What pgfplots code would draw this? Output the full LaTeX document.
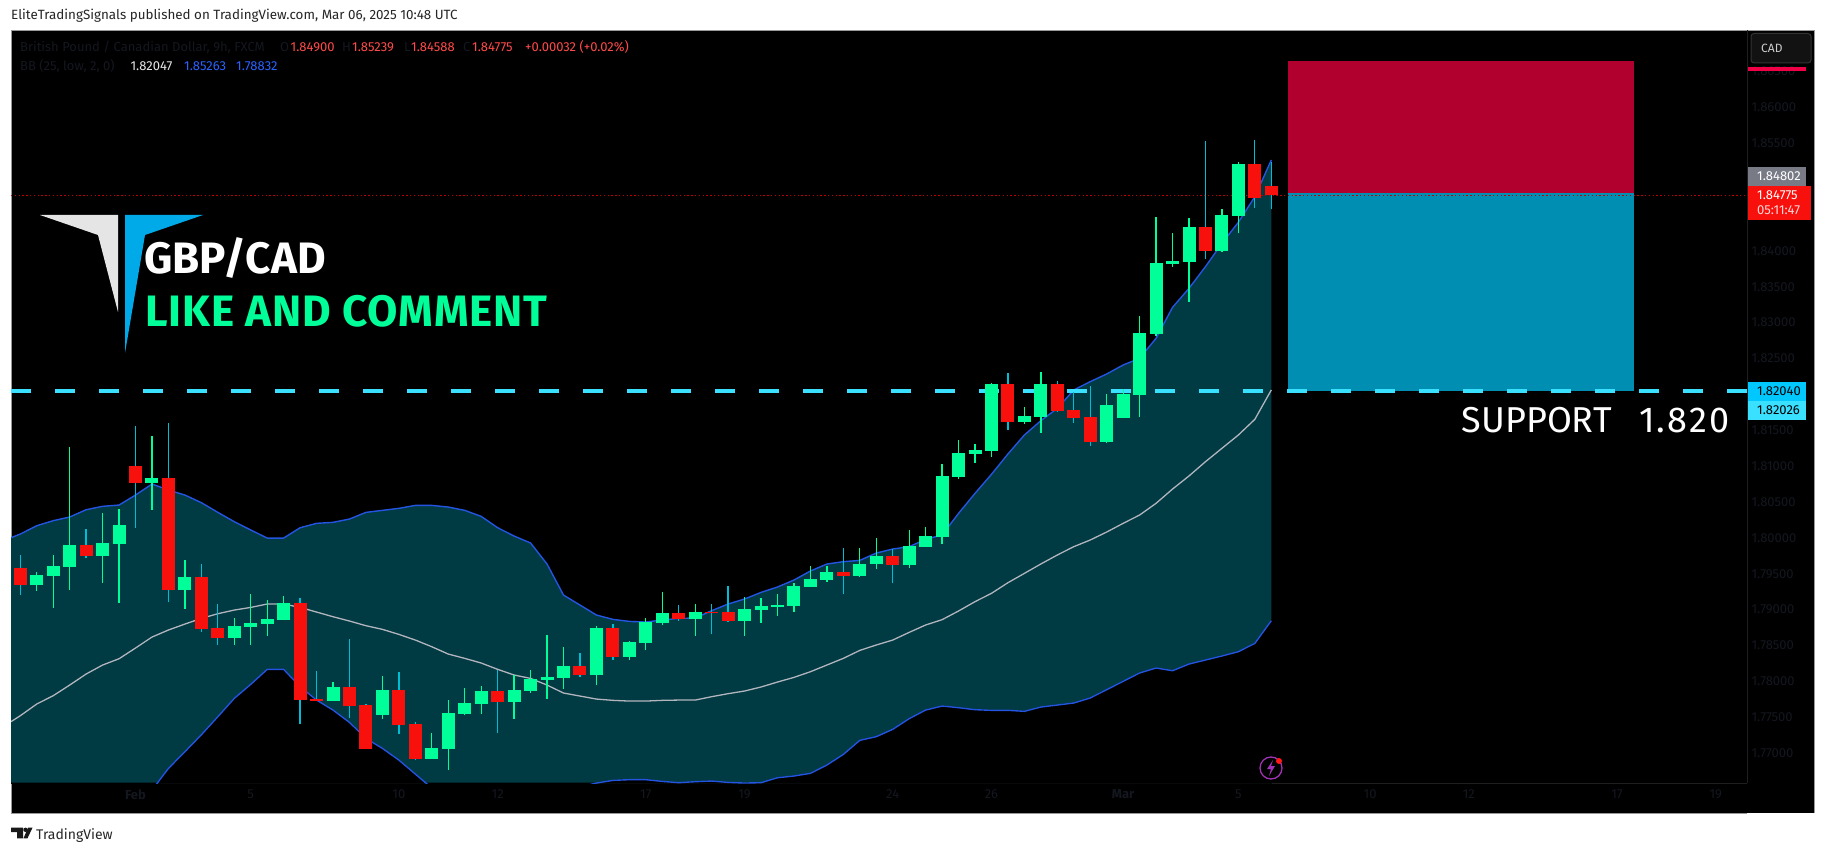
\documentclass[border=0pt]{standalone}
\usepackage{fontspec}
\usepackage{pgfplots}
\usepackage{pgfplotstable}
\pgfplotsset{compat=1.18}
\setmainfont{Fira Sans}

\definecolor{upc}{RGB}{0,255,153}
\definecolor{downc}{RGB}{247,16,12}
\definecolor{downwick}{RGB}{0,188,212}
\definecolor{bandfill}{RGB}{0,58,66}
\definecolor{bandline}{RGB}{35,85,225}
\definecolor{midline}{RGB}{178,181,190}
\definecolor{supp}{RGB}{58,224,255}
\definecolor{suppdark}{RGB}{0,200,255}
\definecolor{boxred}{RGB}{178,0,46}
\definecolor{boxblue}{RGB}{0,143,179}
\definecolor{dim}{RGB}{20,23,31}
\definecolor{valred}{RGB}{255,74,74}
\definecolor{valblue}{RGB}{41,98,255}
\definecolor{cadline}{RGB}{240,0,70}
\definecolor{taggrey}{RGB}{120,123,134}
\definecolor{flag}{RGB}{160,50,180}
\definecolor{logoblue}{RGB}{0,169,232}

% 9h candles, green and red apart
\pgfplotstableread{
i o h l c
1 1.79344 1.79520 1.79260 1.79483
2 1.79469 1.79762 1.79023 1.79608
3 1.79594 1.81266 1.79274 1.79901
5 1.79748 1.80347 1.79371 1.79929
6 1.79915 1.80402 1.79093 1.80179
8 1.80765 1.81419 1.80388 1.80834
10 1.79274 1.79692 1.79009 1.79455
13 1.78605 1.78884 1.78508 1.78772
14 1.78758 1.79218 1.78508 1.78814
15 1.78800 1.79135 1.78633 1.78870
16 1.78856 1.79190 1.78856 1.79093
19 1.77727 1.77992 1.77727 1.77923
22 1.77532 1.78076 1.77477 1.77881
25 1.76919 1.77282 1.76919 1.77073
26 1.77059 1.77741 1.76766 1.77560
27 1.77546 1.77909 1.77532 1.77700
28 1.77686 1.77936 1.77546 1.77867
30 1.77714 1.78090 1.77477 1.77881
31 1.77867 1.78159 1.77839 1.78034
32 1.78020 1.78647 1.77755 1.78062
33 1.78048 1.78480 1.77895 1.78215
35 1.78090 1.78772 1.77950 1.78745
37 1.78341 1.78563 1.78299 1.78549
38 1.78536 1.78884 1.78438 1.78828
39 1.78814 1.79246 1.78786 1.78953
41 1.78870 1.79079 1.78633 1.78967
44 1.78842 1.79176 1.78633 1.79009
45 1.78995 1.79162 1.78814 1.79051
46 1.79037 1.79218 1.78912 1.79065
47 1.79051 1.79371 1.78967 1.79330
48 1.79316 1.79608 1.79316 1.79427
49 1.79413 1.79608 1.79385 1.79525
51 1.79469 1.79859 1.79455 1.79636
52 1.79636 1.79998 1.79566 1.79748
54 1.79623 1.80110 1.79581 1.79887
55 1.79873 1.80152 1.79873 1.80027
56 1.80013 1.81030 1.79915 1.80863
57 1.80849 1.81364 1.80821 1.81183
58 1.81169 1.81308 1.81044 1.81225
59 1.81211 1.82158 1.81127 1.82144
61 1.81615 1.81824 1.81587 1.81698
62 1.81685 1.82311 1.81462 1.82144
66 1.81336 1.82005 1.81322 1.81852
67 1.81671 1.82075 1.81671 1.82005
68 1.81991 1.83092 1.81685 1.82855
69 1.82841 1.84471 1.82813 1.83830
70 1.83816 1.84248 1.83774 1.83858
71 1.83844 1.84457 1.83287 1.84332
73 1.83997 1.84582 1.83983 1.84499
74 1.84485 1.85237 1.84248 1.85209
}\greencandles

\pgfplotstableread{
i o h l c
0 1.79580 1.79762 1.79204 1.79344
4 1.79901 1.80124 1.79720 1.79748
7 1.81001 1.81559 1.80138 1.80765
9 1.80834 1.81601 1.79107 1.79274
11 1.79455 1.79636 1.78689 1.78731
12 1.78745 1.79079 1.78508 1.78605
17 1.79093 1.79162 1.77407 1.77741
18 1.77755 1.78145 1.77727 1.77727
20 1.77923 1.78591 1.77491 1.77658
21 1.77672 1.77686 1.77059 1.77059
23 1.77881 1.78131 1.77268 1.77393
24 1.77407 1.77435 1.76905 1.76919
29 1.77867 1.78159 1.77282 1.77714
34 1.78215 1.78396 1.78062 1.78090
36 1.78745 1.78800 1.78299 1.78341
40 1.78953 1.79065 1.78842 1.78870
42 1.78967 1.79079 1.78661 1.78953
43 1.78967 1.79330 1.78828 1.78842
50 1.79525 1.79859 1.79218 1.79469
53 1.79748 1.79845 1.79371 1.79622
60 1.82144 1.82298 1.81503 1.81615
63 1.82144 1.82186 1.81754 1.81768
64 1.81782 1.82033 1.81601 1.81671
65 1.81685 1.82116 1.81281 1.81336
72 1.84332 1.85530 1.83886 1.83997
75 1.85209 1.85544 1.84596 1.84736
76 1.84900 1.85239 1.84588 1.84775
}\redcandles

% BB(25, low, 2, 0)
\pgfplotstableread{
i up mid low
-0.565 1.80003 1.77440 1.74876
0 1.80054 1.77523 1.74992
1 1.80170 1.77686 1.75201
2 1.80240 1.77802 1.75364
3 1.80291 1.77950 1.75610
4 1.80393 1.78104 1.75814
5 1.80440 1.78229 1.76018
6 1.80458 1.78317 1.76176
7 1.80597 1.78466 1.76334
8 1.80751 1.78619 1.76488
9 1.80667 1.78717 1.76789
10 1.80597 1.78800 1.77022
11 1.80491 1.78879 1.77258
12 1.80356 1.78944 1.77509
13 1.80226 1.78995 1.77765
14 1.80110 1.79032 1.77960
15 1.79998 1.79079 1.78169
16 1.79998 1.79079 1.78169
17 1.80142 1.79032 1.77927
18 1.80203 1.78967 1.77741
19 1.80217 1.78902 1.77602
20 1.80263 1.78842 1.77430
21 1.80356 1.78777 1.77207
22 1.80384 1.78726 1.77068
23 1.80412 1.78656 1.76905
24 1.80453 1.78577 1.76710
25 1.80453 1.78484 1.76515
26 1.80430 1.78382 1.76334
27 1.80384 1.78322 1.76260
28 1.80300 1.78257 1.76214
29 1.80142 1.78169 1.76195
30 1.80026 1.78090 1.76153
31 1.79929 1.78043 1.76158
32 1.79636 1.77950 1.76265
33 1.79204 1.77839 1.76474
34 1.79065 1.77797 1.76529
35 1.78926 1.77755 1.76585
36 1.78865 1.77737 1.76622
37 1.78837 1.77727 1.76632
38 1.78828 1.77727 1.76632
39 1.78856 1.77737 1.76608
40 1.78879 1.77741 1.76590
41 1.78884 1.77741 1.76604
42 1.78986 1.77788 1.76613
43 1.79079 1.77830 1.76594
44 1.79149 1.77867 1.76585
45 1.79241 1.77923 1.76590
46 1.79316 1.77992 1.76659
47 1.79413 1.78057 1.76683
48 1.79539 1.78136 1.76720
49 1.79636 1.78229 1.76836
50 1.79669 1.78322 1.76984
51 1.79687 1.78433 1.77180
52 1.79789 1.78508 1.77231
53 1.79845 1.78577 1.77333
54 1.79878 1.78684 1.77482
55 1.79980 1.78787 1.77602
56 1.80041 1.78861 1.77658
57 1.80342 1.78982 1.77635
58 1.80621 1.79112 1.77607
59 1.80886 1.79228 1.77598
60 1.81169 1.79376 1.77598
61 1.81434 1.79506 1.77584
62 1.81633 1.79637 1.77644
63 1.81805 1.79762 1.77672
64 1.82061 1.79878 1.77700
65 1.82177 1.79971 1.77770
66 1.82284 1.80082 1.77886
67 1.82409 1.80203 1.78002
68 1.82502 1.80319 1.78118
69 1.82781 1.80482 1.78188
70 1.83212 1.80681 1.78150
71 1.83477 1.80863 1.78243
72 1.83779 1.81062 1.78299
73 1.84104 1.81248 1.78355
74 1.84397 1.81434 1.78415
75 1.84754 1.81652 1.78531
76 1.85265 1.82061 1.78847
}\bands

\pgfplotsset{
  wick/.style={only marks, mark size=0pt, mark options={draw=none,fill=none}, forget plot,
    error bars/.cd, y dir=both, y explicit, error mark=none,
    error bar style={line width=1.3pt, solid, #1}},
}

% one filled plot per candle body, read row by row from its table
\newcommand{\bodies}[2]{%
  \pgfplotstablegetrowsof{#1}%
  \pgfmathtruncatemacro{\lastrow}{\pgfplotsretval-1}%
  \foreach \rw in {0,...,\lastrow}{%
    \pgfplotstablegetelem{\rw}{i}\of{#1}%
    \pgfmathsetmacro{\xa}{\pgfplotsretval-0.395}%
    \pgfmathsetmacro{\xb}{\xa+0.79}%
    \pgfplotstablegetelem{\rw}{o}\of{#1}\let\yo\pgfplotsretval
    \pgfplotstablegetelem{\rw}{c}\of{#1}\let\yc\pgfplotsretval
    \edef\temp{\noexpand\addplot[fill=#2,draw=none,forget plot] coordinates {(\xa,\yo) (\xb,\yo) (\xb,\yc) (\xa,\yc)} -- cycle;}%
    \temp
  }%
}

\newcommand{\px}[1]{\fontsize{#1}{#1}\selectfont}

\begin{document}
\begin{tikzpicture}
  \fill[white] (0pt,0pt) rectangle (1826pt,-853pt);
  \begin{scope}[x=1pt,y=-1pt]
    \fill[black] (11,30.5) rectangle (1814.5,813);
    \draw[gray!80,line width=1pt] (1747,813) -- (11,813) -- (11,30.5) -- (1814.5,30.5) -- (1814.5,813);
  \end{scope}

  \begin{axis}[
    at={(11pt,-783pt)}, anchor=south west,
    scale only axis, width=1736pt, height=752.5pt,
    xmin=-0.565, xmax=104.9, ymin=1.765856, ymax=1.870691,
    axis line style={draw=black!88!white, line width=0.6pt},
    axis x line*=bottom, axis y line*=right,
    major tick length=0pt,
    xtick={7,14,23,29,38,44,53,59,67,74,82,88,97,103},
    xticklabels={\textbf{Feb},5,10,12,17,19,24,26,\textbf{Mar},5,10,12,17,19},
    ytick={1.77,1.775,1.78,1.785,1.79,1.795,1.80,1.805,1.81,1.815,1.825,1.83,1.835,1.84,1.855,1.86,1.865},
    yticklabels={1.77000,1.77500,1.78000,1.78500,1.79000,1.79500,1.80000,1.80500,1.81000,1.81500,1.82500,1.83000,1.83500,1.84000,1.85500,1.86000,1.86500},
    tick label style={font=\px{13}, text=dim},
    xticklabel style={yshift=-3pt},
    yticklabel style={xshift=1pt},
    /pgf/number format/assume math mode=true,
  ]
    % bollinger area: teal under the upper band, black again under the lower one
    \addplot[fill=bandfill, draw=none, forget plot] table[x=i,y=up] {\bands} \closedcycle;
    \addplot[fill=black, draw=black, line width=1pt, forget plot] table[x=i,y=low] {\bands} \closedcycle;
    \addplot[bandline, line width=1.4pt, line join=round] table[x=i,y=up] {\bands};
    \addplot[bandline, line width=1.4pt, line join=round] table[x=i,y=low] {\bands};
    \addplot[midline, line width=1.3pt, line join=round] table[x=i,y=mid] {\bands};

    % short position box
    \addplot[fill=boxred, draw=none] coordinates {(77.02,1.84805) (98.04,1.84805) (98.04,1.86644) (77.02,1.86644)} -- cycle;
    \addplot[fill=boxblue, draw=none] coordinates {(77.02,1.82040) (98.04,1.82040) (98.04,1.84805) (77.02,1.84805)} -- cycle;

    % support and last price lines
    \addplot[supp, line width=4pt, dash pattern=on 20pt off 24pt] coordinates {(-0.565,1.82040) (104.9,1.82040)};
    \addplot[red!75!black, line width=1pt, dash pattern=on 1.4pt off 2.4pt] coordinates {(-0.565,1.84775) (104.9,1.84775)};

    % candles
    \addplot[wick=upc] table[x=i,y=c,y error plus expr=\thisrow{h}-\thisrow{c},y error minus expr=\thisrow{c}-\thisrow{l}] {\greencandles};
    \addplot[wick=downwick] table[x=i,y=c,y error plus expr=\thisrow{h}-\thisrow{c},y error minus expr=\thisrow{c}-\thisrow{l}] {\redcandles};
    \bodies{\greencandles}{upc}
    \bodies{\redcandles}{downc}
  \end{axis}

  \begin{scope}[x=1pt,y=-1pt]
    % page header and footer
    \node[anchor=base west,inner sep=0pt,text=black!85] at (11,20) {\px{13.4}EliteTradingSignals published on TradingView.com, Mar 06, 2025 10:48 UTC};
    \fill[black!90] (11,827.7) -- (23,827.7) -- (23,838.3) -- (17,838.3) -- (17,832) -- (11,832) -- cycle;
    \fill[black!90] (25.5,829.8) circle (2.2);
    \fill[black!90] (28,827.7) -- (32.5,827.7) -- (27.5,838.3) -- (23.5,838.3) -- cycle;
    \node[anchor=base west,inner sep=0pt,text=black!85] at (36,839) {\px{14}TradingView};

    % legend rows in the pane
    \begin{scope}[every node/.style={anchor=base west,inner sep=0pt}]
      \node[text=dim] at (20,51.5) {\px{13}British Pound / Canadian Dollar, 9h, FXCM};
      \node[text=dim] at (280,51.5) {\px{13}O}; \node[text=valred] at (290.5,51.5) {\px{13}1.84900};
      \node[text=dim] at (342,51.5) {\px{13}H}; \node[text=valred] at (352,51.5) {\px{13}1.85239};
      \node[text=dim] at (404,51.5) {\px{13}L}; \node[text=valred] at (411,51.5) {\px{13}1.84588};
      \node[text=dim] at (463,51.5) {\px{13}C}; \node[text=valred] at (472,51.5) {\px{13}1.84775};
      \node[text=valred] at (525,51.5) {\px{13}+0.00032 (+0.02\%)};
      \node[text=dim] at (20,71) {\px{13}BB (25, low, 2, 0)};
      \node[text=white!90!black] at (130.4,71) {\px{13}1.82047};
      \node[text=valblue] at (184,71) {\px{13}1.85263};
      \node[text=valblue] at (236,71) {\px{13}1.78832};

      % pasted titles
      \node[text=white] at (144,273.5) {\px{44}\bfseries GBP/CAD};
      \node[text=upc] at (145,326.5) {\px{44}\bfseries\addfontfeature{LetterSpace=2}LIKE AND COMMENT};
      \node[text=white] at (1461.5,432.7) {\px{36}SUPPORT};
      \node[text=white] at (1639,432.7) {\px{36}\addfontfeature{LetterSpace=6}1.820};
    \end{scope}

    % logo
    \fill[black!10] (40,215) -- (118,215) -- (118,312) -- (98,235) -- cycle;
    \fill[logoblue] (125,215) -- (203,215) -- (145,235) -- (125,353) -- cycle;

    % price scale tags
    \begin{scope}[every node/.style={anchor=west,inner sep=0pt}]
      \fill[cadline] (1748,67) rectangle (1806,71);
      \filldraw[fill=black!93!white,draw=black!80!white,rounded corners=3pt,line width=1pt] (1751,33.5) rectangle (1811,63);
      \node[text=black!20] at (1761,48.5) {\px{12}CAD};
      \fill[taggrey] (1748,167) rectangle (1806,186);
      \node[text=white] at (1757,176) {\px{13}1.84802};
      \fill[downc] (1748,186) rectangle (1811,220);
      \node[text=white] at (1757,195.5) {\px{13}1.84775};
      \node[text=white!85!red] at (1757,210) {\px{13}05:11:47};
      \fill[suppdark] (1748,382) rectangle (1806,401);
      \node[text=black] at (1757,391) {\px{13}1.82040};
      \fill[supp] (1748,401) rectangle (1806,420);
      \node[text=black] at (1757,410.5) {\px{13}1.82026};
    \end{scope}

    % dividend flag
    \draw[flag,line width=1.3pt] (1271,768) circle (11);
    \fill[flag] (1273,760) -- (1267,769) -- (1271,769) -- (1269,776) -- (1275,766) -- (1271,766) -- cycle;
    \fill[red!90!white] (1279,761) circle (3);
  \end{scope}
\end{tikzpicture}
\end{document}
